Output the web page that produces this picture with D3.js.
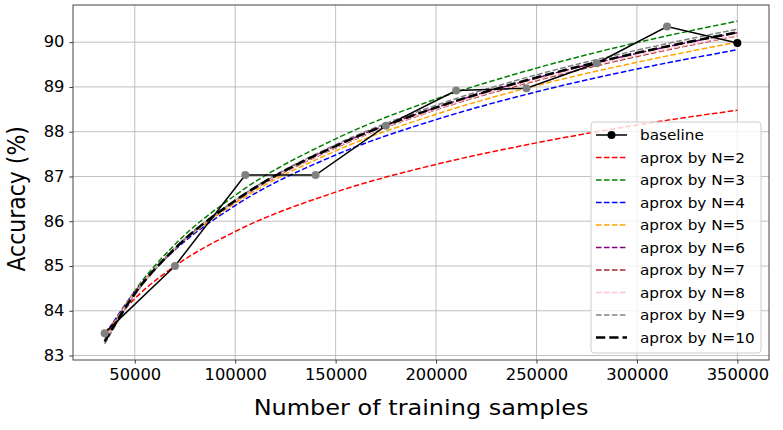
<!DOCTYPE html>
<html>
<head>
<meta charset="utf-8">
<script src="https://cdn.jsdelivr.net/npm/d3@7"></script>
<style>
  body { margin: 0; background: #fff; }
  svg { display: block; font-family: 'DejaVu Sans', sans-serif; }
</style>
</head>
<body>
<div id="chart"></div>
<script>
// Baseline measurements
const sampleCounts = [35000, 70000, 105000, 140000, 175000, 210000, 245000, 280000, 315000, 350000]
const baselineAcc = [83.5, 85.0, 87.03, 87.03, 88.13, 88.92, 88.97, 89.53, 90.35, 89.98]

// Approximation curves, read at these sample counts
const curveX = [35000, 50000, 70000, 100000, 150000, 200000, 250000, 300000, 350000]
const approxN2 = [83.50, 84.27, 85.00, 85.77, 86.65, 87.27, 87.75, 88.15, 88.48]
const approxN3 = [83.33, 84.44, 85.48, 86.58, 87.84, 88.73, 89.42, 89.99, 90.47]
const approxN4 = [83.44, 84.43, 85.36, 86.35, 87.48, 88.27, 88.89, 89.40, 89.83]
const approxN5 = [83.39, 84.42, 85.38, 86.40, 87.57, 88.39, 89.03, 89.55, 90.00]
const approxN6 = [83.32, 84.39, 85.40, 86.46, 87.68, 88.54, 89.20, 89.75, 90.21]
const approxN7 = [83.35, 84.40, 85.39, 86.44, 87.64, 88.49, 89.14, 89.68, 90.14]
const approxN8 = [83.34, 84.40, 85.39, 86.45, 87.65, 88.50, 89.16, 89.70, 90.15]
const approxN9 = [83.26, 84.35, 85.38, 86.47, 87.71, 88.59, 89.27, 89.82, 90.29]
const approxN10 = [83.31, 84.38, 85.39, 86.46, 87.68, 88.54, 89.21, 89.76, 90.22]

const xTicks = [50000, 100000, 150000, 200000, 250000, 300000, 350000]
const yTicks = [83, 84, 85, 86, 87, 88, 89, 90]

const series = [
  { label: 'aprox by N=2', values: approxN2, color: 'red', width: 1.5 },
  { label: 'aprox by N=3', values: approxN3, color: 'green', width: 1.5 },
  { label: 'aprox by N=4', values: approxN4, color: 'blue', width: 1.5 },
  { label: 'aprox by N=5', values: approxN5, color: 'orange', width: 1.5 },
  { label: 'aprox by N=6', values: approxN6, color: 'purple', width: 1.5 },
  { label: 'aprox by N=7', values: approxN7, color: 'brown', width: 1.5 },
  { label: 'aprox by N=8', values: approxN8, color: 'pink', width: 1.5 },
  { label: 'aprox by N=9', values: approxN9, color: 'gray', width: 1.5 },
  { label: 'aprox by N=10', values: approxN10, color: 'black', width: 2.5 }
]

const width = 783
const height = 430
const margin = { top: 5, right: 14, bottom: 70, left: 73 }
// the source figure is slightly stretched sideways
const stretch = 1.09

const svg = d3.select('#chart')
  .append('svg')
  .attr('width', width)
  .attr('height', height)

const x = d3.scaleLinear()
  .domain([19250, 365750])
  .range([margin.left, width - margin.right])

const y = d3.scaleLinear()
  .domain([82.90, 90.83])
  .range([height - margin.bottom, margin.top])

// Grid
svg.append('g')
  .selectAll('line')
  .data(xTicks)
  .join('line')
  .attr('x1', d => x(d))
  .attr('x2', d => x(d))
  .attr('y1', margin.top)
  .attr('y2', height - margin.bottom)
  .attr('stroke', '#b0b0b0')
  .attr('stroke-width', 0.8)

svg.append('g')
  .selectAll('line')
  .data(yTicks)
  .join('line')
  .attr('x1', margin.left)
  .attr('x2', width - margin.right)
  .attr('y1', d => y(d))
  .attr('y2', d => y(d))
  .attr('stroke', '#b0b0b0')
  .attr('stroke-width', 0.8)

// Approximation curves
const curveLine = d3.line()
  .x((d, i) => x(curveX[i]))
  .y(d => y(d))
  .curve(d3.curveMonotoneX)

series.forEach(s => {
  svg.append('path')
    .datum(s.values)
    .attr('d', curveLine)
    .attr('fill', 'none')
    .attr('stroke', s.color)
    .attr('stroke-width', s.width)
    .attr('stroke-dasharray', `${3.7 * s.width},${1.6 * s.width}`)
})

// Baseline
const baseLine = d3.line()
  .x((d, i) => x(sampleCounts[i]))
  .y(d => y(d))

svg.append('path')
  .datum(baselineAcc)
  .attr('d', baseLine)
  .attr('fill', 'none')
  .attr('stroke', 'black')
  .attr('stroke-width', 1.5)

svg.append('g')
  .selectAll('circle')
  .data(baselineAcc)
  .join('circle')
  .attr('cx', (d, i) => x(sampleCounts[i]))
  .attr('cy', d => y(d))
  .attr('r', 4)
  .attr('fill', (d, i) => i === baselineAcc.length - 1 ? 'black' : 'gray')

// Axes
const xAxis = svg.append('g')
  .attr('transform', `translate(0,${height - margin.bottom})`)
  .call(d3.axisBottom(x).tickValues(xTicks).tickFormat(d3.format('d')).tickSizeOuter(0).tickSize(3.5).tickPadding(6))

const yAxis = svg.append('g')
  .attr('transform', `translate(${margin.left},0)`)
  .call(d3.axisLeft(y).tickValues(yTicks).tickSizeOuter(0).tickSize(3.5).tickPadding(5))

;[xAxis, yAxis].forEach(ax => {
  ax.select('.domain').remove()
  ax.selectAll('.tick line').attr('stroke', '#333').attr('stroke-width', 1)
  ax.selectAll('.tick text')
    .attr('fill', '#000')
    .attr('font-size', '15px')
    .attr('font-family', "'DejaVu Sans', sans-serif")
})
xAxis.selectAll('.tick text').attr('transform', `scale(${stretch},1)`)
yAxis.selectAll('.tick text')
  .attr('x', -8.5 / stretch)
  .attr('transform', `scale(${stretch},1)`)

// Frame
svg.append('rect')
  .attr('x', margin.left)
  .attr('y', margin.top)
  .attr('width', width - margin.left - margin.right)
  .attr('height', height - margin.top - margin.bottom)
  .attr('fill', 'none')
  .attr('stroke', '#444')
  .attr('stroke-width', 1)

// Axis titles
svg.append('text')
  .attr('transform', `translate(${(margin.left + width - margin.right) / 2},415) scale(${stretch},1)`)
  .attr('text-anchor', 'middle')
  .attr('font-size', '22px')
  .text('Number of training samples')

svg.append('text')
  .attr('transform', `translate(25,${y(86.5)}) scale(${stretch},1) rotate(-90)`)
  .attr('text-anchor', 'middle')
  .attr('font-size', '22px')
  .text('Accuracy (%)')

// Legend
const legend = svg.append('g').attr('transform', 'translate(591,122)')
const rowH = 22.5

legend.append('rect')
  .attr('width', 170)
  .attr('height', 231)
  .attr('rx', 3)
  .attr('fill', 'white')
  .attr('fill-opacity', 0.8)
  .attr('stroke', '#cccccc')
  .attr('stroke-width', 1)

const legendRows = [{ label: 'baseline', color: 'black', width: 1.5, solid: true }].concat(series)

legendRows.forEach((r, i) => {
  const ry = 13 + i * rowH
  legend.append('line')
    .attr('x1', 5)
    .attr('x2', 36)
    .attr('y1', ry)
    .attr('y2', ry)
    .attr('stroke', r.color)
    .attr('stroke-width', r.width)
    .attr('stroke-dasharray', r.solid ? null : `${3.7 * r.width},${1.6 * r.width}`)
  if (r.solid) {
    legend.append('circle')
      .attr('cx', 20.5)
      .attr('cy', ry)
      .attr('r', 4)
      .attr('fill', 'black')
  }
  legend.append('text')
    .attr('transform', `translate(49,${ry + 5}) scale(${stretch},1)`)
    .attr('font-size', '14px')
    .text(r.label)
})
</script>
</body>
</html>
